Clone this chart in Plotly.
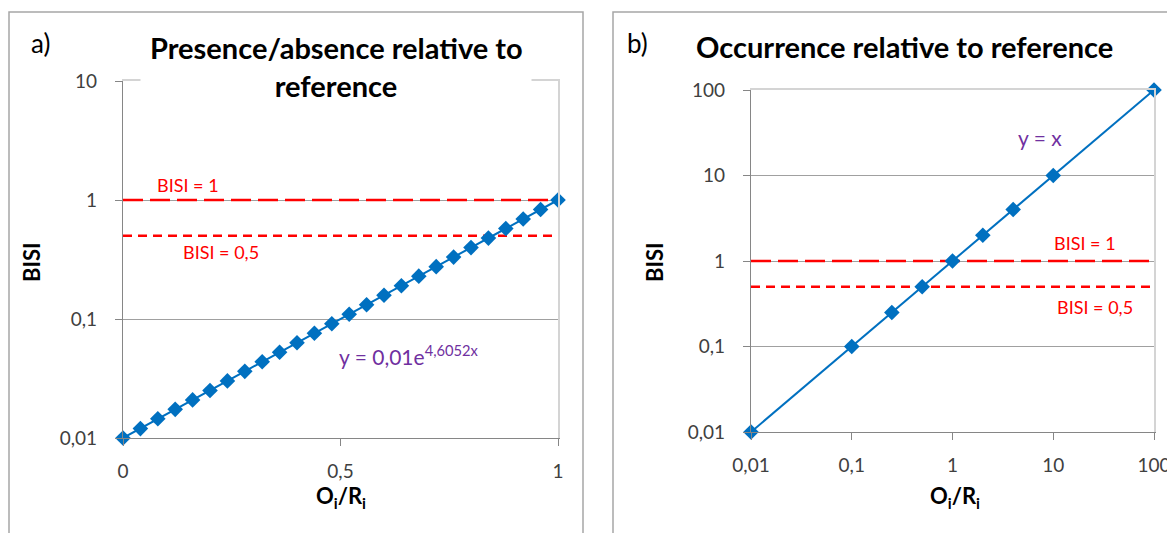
import plotly.graph_objects as go

# ---- data ----
# panel a: presence/absence relative to reference
a_x = [0.00, 0.04, 0.08, 0.12, 0.16, 0.20, 0.24, 0.28, 0.32, 0.36, 0.40, 0.44, 0.48,
       0.52, 0.56, 0.60, 0.64, 0.68, 0.72, 0.76, 0.80, 0.84, 0.88, 0.92, 0.96, 1.00]
a_y = [0.0100, 0.0120, 0.0145, 0.0174, 0.0209, 0.0251, 0.0302, 0.0363, 0.0437, 0.0525,
       0.0631, 0.0759, 0.0912, 0.1096, 0.1318, 0.1585, 0.1905, 0.2291, 0.2754, 0.3311,
       0.3981, 0.4786, 0.5754, 0.6918, 0.8318, 1.0000]
# panel b: occurrence relative to reference
b_x = [0.01, 0.1, 0.25, 0.5, 1, 2, 4, 10, 100]
b_y = [0.01, 0.1, 0.25, 0.5, 1, 2, 4, 10, 100]
# reference lines
bisi_levels = [1, 0.5]
a_xspan = [0, 1]
b_xspan = [0.01, 100]
# tick labels
a_xticks = [0, 0.5, 1]
a_xtext = ["0", "0,5", "1"]
a_yticks = [0.01, 0.1, 1, 10]
a_ytext = ["0,01", "0,1", "1", "10"]
b_ticks = [0.01, 0.1, 1, 10, 100]
b_text = ["0,01", "0,1", "1", "10", "100"]

# the page body has an 8px default margin; the figure fills the rest of the window
OFF = 8
W, H = 1175 - OFF, 533 - OFF
FONT = "Lato"
BLUE = "#0070C0"
RED = "#FF0000"
PURPLE = "#7030A0"
AXC = "#868686"
GRIDC = "#a0a0a0"
LIGHT = "#d4d4d4"
TICKF = dict(family=FONT, size=19, color="#404040")

def px_x(p):
    return (p - OFF) / W

def px_y(p):
    return 1 - (p - OFF) / H

fig = go.Figure()

dashes = ["20px,7px", "9px,6px"]
# panel a
for lvl, d in zip(bisi_levels, dashes):
    fig.add_trace(go.Scatter(x=a_xspan, y=[lvl, lvl], mode="lines",
                             line=dict(color=RED, width=2.5, dash=d),
                             xaxis="x", yaxis="y", hoverinfo="skip"))
fig.add_trace(go.Scatter(x=a_x, y=a_y, mode="lines+markers", cliponaxis=False,
                         line=dict(color=BLUE, width=2),
                         marker=dict(symbol="diamond", size=12, color=BLUE),
                         xaxis="x", yaxis="y"))
# panel b
for lvl, d in zip(bisi_levels, dashes):
    fig.add_trace(go.Scatter(x=b_xspan, y=[lvl, lvl], mode="lines",
                             line=dict(color=RED, width=2.5, dash=d),
                             xaxis="x2", yaxis="y2", hoverinfo="skip"))
fig.add_trace(go.Scatter(x=b_x, y=b_y, mode="lines+markers", cliponaxis=False,
                         line=dict(color=BLUE, width=2),
                         marker=dict(symbol="diamond", size=12, color=BLUE),
                         xaxis="x2", yaxis="y2"))

a_dom_x = [px_x(123), px_x(558)]
a_dom_y = [px_y(438), px_y(81)]
b_dom_x = [px_x(751), px_x(1154)]
b_dom_y = [px_y(432), px_y(90)]

common_ax = dict(showline=True, linecolor=AXC, linewidth=1.2, ticks="outside",
                 ticklen=7, tickcolor=AXC, tickwidth=1.2, zeroline=False,
                 tickfont=TICKF, automargin=False)
overlay_ax = dict(showline=True, linecolor=LIGHT, linewidth=1.5, showticklabels=False,
                  showgrid=False, zeroline=False, ticks="", automargin=False)

fig.update_layout(
    width=W, height=H, margin=dict(l=0, r=0, t=0, b=0, pad=0, autoexpand=False),
    paper_bgcolor="white", plot_bgcolor="white", showlegend=False,
    xaxis=dict(domain=a_dom_x, range=[0, 1], tickvals=a_xticks, ticktext=a_xtext,
               showgrid=False, anchor="y", ticklabelstandoff=9, **common_ax),
    yaxis=dict(domain=a_dom_y, type="log", range=[-2, 1], tickvals=a_yticks,
               ticktext=a_ytext, showgrid=True, gridcolor=GRIDC, gridwidth=1.3,
               anchor="x", ticklabelstandoff=14, **common_ax),
    xaxis2=dict(domain=b_dom_x, type="log", range=[-2, 2], tickvals=b_ticks,
                ticktext=b_text, showgrid=False, anchor="y2", ticklabelstandoff=9,
                **common_ax),
    yaxis2=dict(domain=b_dom_y, type="log", range=[-2, 2], tickvals=b_ticks,
                ticktext=b_text, showgrid=True, gridcolor=GRIDC, gridwidth=1.3,
                anchor="x2", ticklabelstandoff=14, **common_ax),
    # light plot-area borders (top / right)
    xaxis3=dict(overlaying="x", side="top", range=[0, 1], anchor="y", **overlay_ax),
    yaxis3=dict(overlaying="y", side="right", type="log", range=[-2, 1], anchor="x",
                **overlay_ax),
    xaxis4=dict(overlaying="x2", side="top", type="log", range=[-2, 2], anchor="y2",
                **overlay_ax),
    yaxis4=dict(overlaying="y2", side="right", type="log", range=[-2, 2], anchor="x2",
                **overlay_ax),
)

# invisible traces to activate the overlay (border) axes
fig.add_trace(go.Scatter(x=[0.5], y=[1], xaxis="x3", yaxis="y3", mode="markers",
                         marker=dict(opacity=0), hoverinfo="skip"))
fig.add_trace(go.Scatter(x=[1], y=[1], xaxis="x4", yaxis="y4", mode="markers",
                         marker=dict(opacity=0), hoverinfo="skip"))

# panel frames
fig.add_shape(type="rect", xref="paper", yref="paper", x0=px_x(9), x1=px_x(583),
              y0=px_y(560), y1=px_y(12), line=dict(color="#a6a6a6", width=1.5),
              fillcolor="rgba(0,0,0,0)", layer="below")
fig.add_shape(type="rect", xref="paper", yref="paper", x0=px_x(613), x1=px_x(1200),
              y0=px_y(560), y1=px_y(12), line=dict(color="#a6a6a6", width=1.5),
              fillcolor="rgba(0,0,0,0)", layer="below")

ann = []

def add_ann(text, x, y, xref="paper", yref="paper", **kw):
    d = dict(text=text, x=x, y=y, xref=xref, yref=yref, showarrow=False,
             xanchor="center", yanchor="middle")
    d.update(kw)
    ann.append(d)

title_font = dict(family=FONT, size=29, color="#000000")
# panel labels
add_ann("a)", px_x(40), px_y(43), font=dict(family=FONT, size=26, color="#000"))
add_ann("b)", px_x(637), px_y(43), font=dict(family=FONT, size=26, color="#000"))
# titles
add_ann("<b>Presence/absence relative to</b>", px_x(336), px_y(47), font=title_font)
add_ann("<b>reference</b>", px_x(336), px_y(85), font=title_font, bgcolor="white",
        width=388, height=32)
add_ann("<b>Occurrence relative to reference</b>", px_x(904), px_y(46), font=title_font)
# axis titles
axt_font = dict(family=FONT, size=22, color="#000")
add_ann("<b>BISI</b>", px_x(31), px_y(262), textangle=-90, font=axt_font)
add_ann("<b>BISI</b>", px_x(654), px_y(262), textangle=-90, font=axt_font)
add_ann("<b>O<sub>i</sub>/R<sub>i</sub></b>", px_x(341), px_y(497), font=axt_font)
add_ann("<b>O<sub>i</sub>/R<sub>i</sub></b>", px_x(955), px_y(497), font=axt_font)
# series labels (log axes take log10 positions)
lab_font = dict(family=FONT, size=18, color=RED)
add_ann("BISI = 1", 0.15, 0.126, "x", "y", font=lab_font)
add_ann("BISI = 0,5", 0.225, -0.437, "x", "y", font=lab_font)
add_ann("y = 0,01e<sup>4,6052x</sup>", 0.657, -1.303, "x", "y",
        font=dict(family=FONT, size=21, color=PURPLE))
add_ann("BISI = 1", 1.315, 0.21, "x2", "y2", font=lab_font)
add_ann("BISI = 0,5", 1.414, -0.538, "x2", "y2", font=lab_font)
add_ann("y = x", 0.868, 1.45, "x2", "y2", font=dict(family=FONT, size=21, color=PURPLE))
fig.update_layout(annotations=ann)

fig.write_html("out.html")
